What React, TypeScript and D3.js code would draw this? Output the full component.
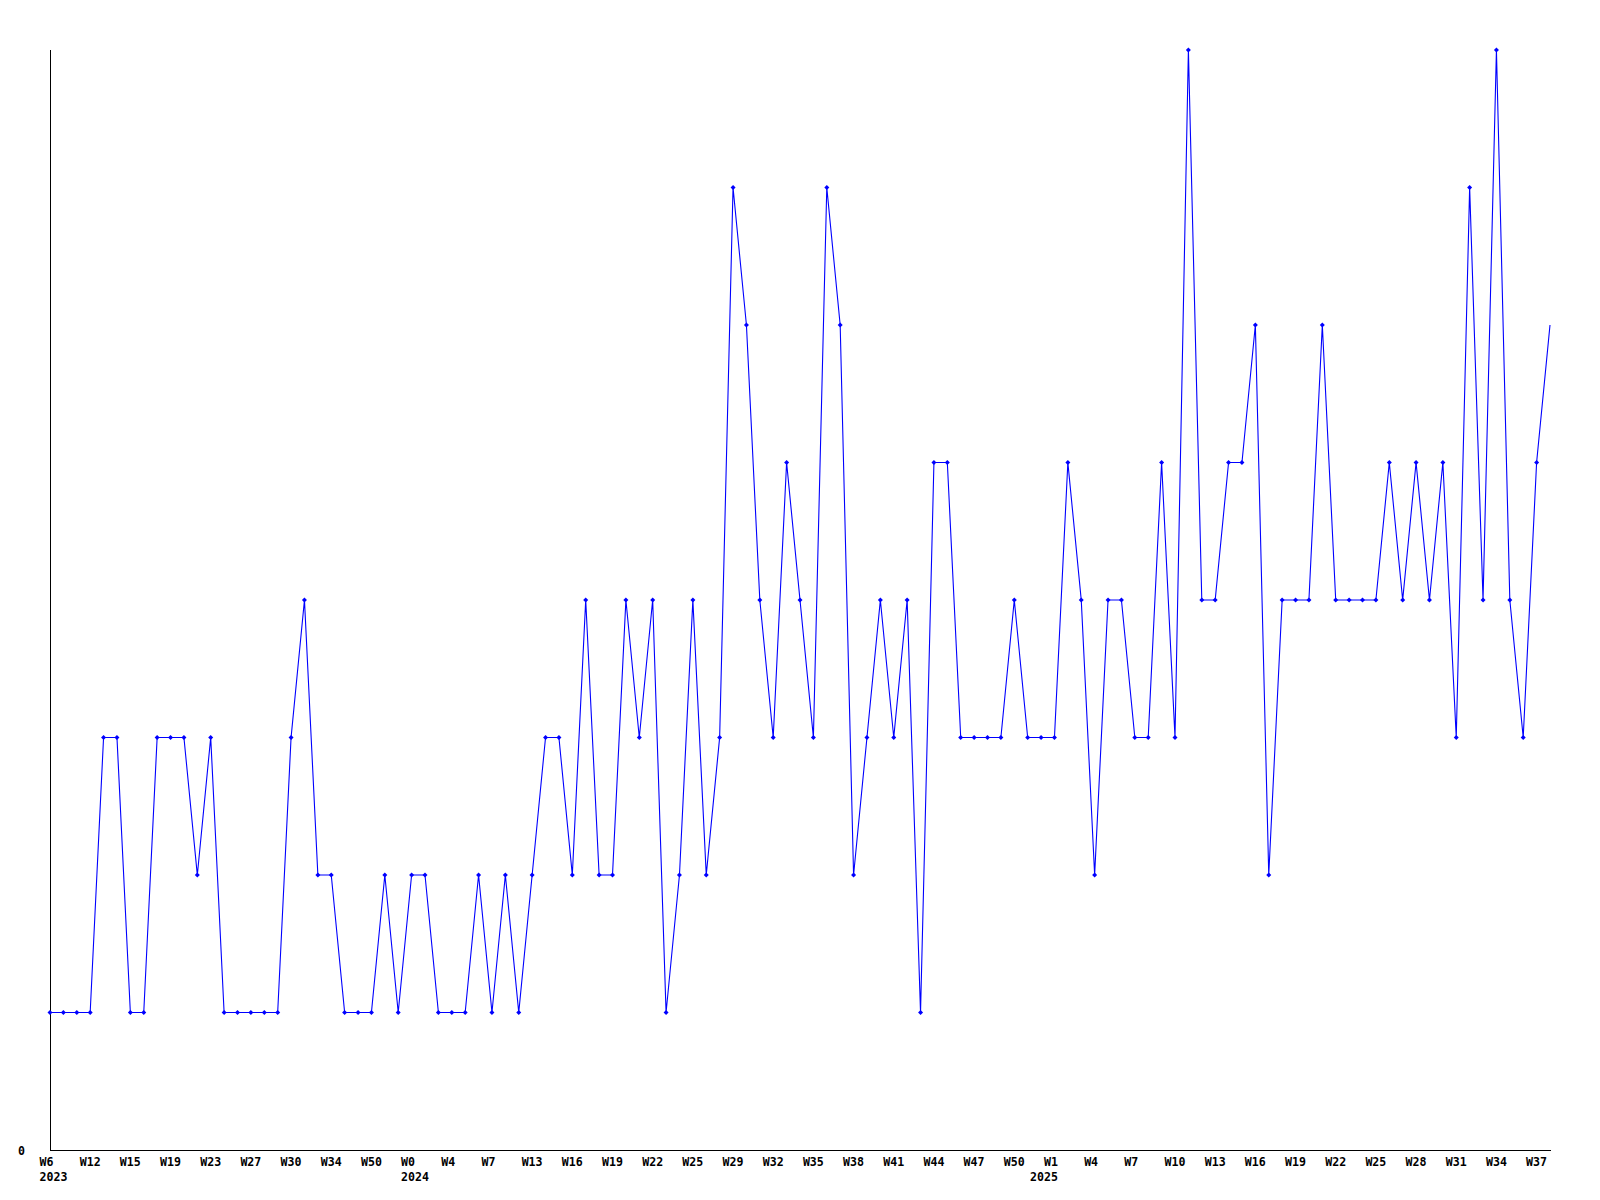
import React from "react";
import * as d3 from "d3";

// Weekly counts, one per data point (113 points)
const values: number[] = [
  1, 1, 1, 1, 3, 3, 1, 1, 3, 3, 3, 2, 3, 1, 1, 1, 1, 1, 3, 4,
  2, 2, 1, 1, 1, 2, 1, 2, 2, 1, 1, 1, 2, 1, 2, 1, 2, 3, 3, 2,
  4, 2, 2, 4, 3, 4, 1, 2, 4, 2, 3, 7, 6, 4, 3, 5, 4, 3, 7, 6,
  2, 3, 4, 3, 4, 1, 5, 5, 3, 3, 3, 3, 4, 3, 3, 3, 5, 4, 2, 4,
  4, 3, 3, 5, 3, 8, 4, 4, 5, 5, 6, 2, 4, 4, 4, 6, 4, 4, 4, 4,
  5, 4, 5, 4, 5, 3, 7, 4, 8, 4, 3, 5, 6,
];

// Tick labels, one every 3rd point
const weekLabels: string[] = [
  "W6", "W12", "W15", "W19", "W23", "W27", "W30", "W34", "W50",
  "W0", "W4", "W7", "W13", "W16", "W19", "W22", "W25", "W29", "W32",
  "W35", "W38", "W41", "W44", "W47", "W50",
  "W1", "W4", "W7", "W10", "W13", "W16", "W19", "W22", "W25", "W28",
  "W31", "W34", "W37",
];
const tickStep = 3;

// Year labels: under which tick label (index into weekLabels)
const yearTickIndex: number[] = [0, 9, 25];
const yearNames: string[] = ["2023", "2024", "2025"];

const yTickValues: number[] = [0];

const W = 1600;
const H = 1200;
const left = 50;
const right = 1550;
const top = 50;
const bottom = 1150;
const yMax = 8;
const font = "'DejaVu Sans Mono', 'Liberation Mono', monospace";
const charW = 7;

export default function App() {
  const x = d3.scaleLinear().domain([0, values.length - 1]).range([left, right]);
  const y = d3.scaleLinear().domain([0, yMax]).range([bottom, top]);
  const line = d3
    .line<number>()
    .x((_, i) => x(i))
    .y((d) => y(d));

  const tickOffset = -10.5;

  return (
    <svg
      width={W}
      height={H}
      style={{ position: "absolute", left: 0, top: 0, background: "#fff" }}
    >
      <rect x={0} y={0} width={W} height={H} fill="#fff" />
      {/* axes */}
      <line x1={left + 0.5} y1={top} x2={left + 0.5} y2={bottom + 0.5} stroke="#000" strokeWidth={1} shapeRendering="crispEdges" />
      <line x1={left} y1={bottom + 0.5} x2={right + 1} y2={bottom + 0.5} stroke="#000" strokeWidth={1} shapeRendering="crispEdges" />

      {/* series */}
      <path d={line(values) || ""} fill="none" stroke="#0000ff" strokeWidth={1.1} />
      {values.map((v, i) => {
        // the reference shows no marker on the final point
        if (i === values.length - 1) return null;
        const cx = x(i);
        const cy = y(v);
        return (
          <path
            key={i}
            d={`M${cx - 2.5},${cy} L${cx},${cy - 2.5} L${cx + 2.5},${cy} L${cx},${cy + 2.5} Z`}
            fill="#0000ff"
          />
        );
      })}

      {/* y label */}
      {yTickValues.map((v) => (
        <text key={v} x={25} y={y(v) + 5} textAnchor="end" fontFamily={font} fontWeight="bold" fontSize={11.6} fill="#000">
          {v}
        </text>
      ))}

      {/* x tick labels */}
      {weekLabels.map((lab, k) => (
        <text
          key={k}
          x={x(k * tickStep) + tickOffset}
          y={1166}
          fontFamily={font}
          fontWeight="bold"
          fontSize={11.6}
          fill="#000"
        >
          {lab}
        </text>
      ))}

      {/* year labels */}
      {yearNames.map((yr, j) => {
        const k = yearTickIndex[j];
        const startX = x(k * tickStep) + tickOffset;
        const lab = weekLabels[k];
        // last year label is right-aligned with its week label in the reference
        const isLast = j === yearNames.length - 1;
        const xPos = isLast ? startX + lab.length * charW - yr.length * charW : startX;
        return (
          <text key={yr} x={xPos} y={1181} fontFamily={font} fontWeight="bold" fontSize={11.6} fill="#000">
            {yr}
          </text>
        );
      })}
    </svg>
  );
}
